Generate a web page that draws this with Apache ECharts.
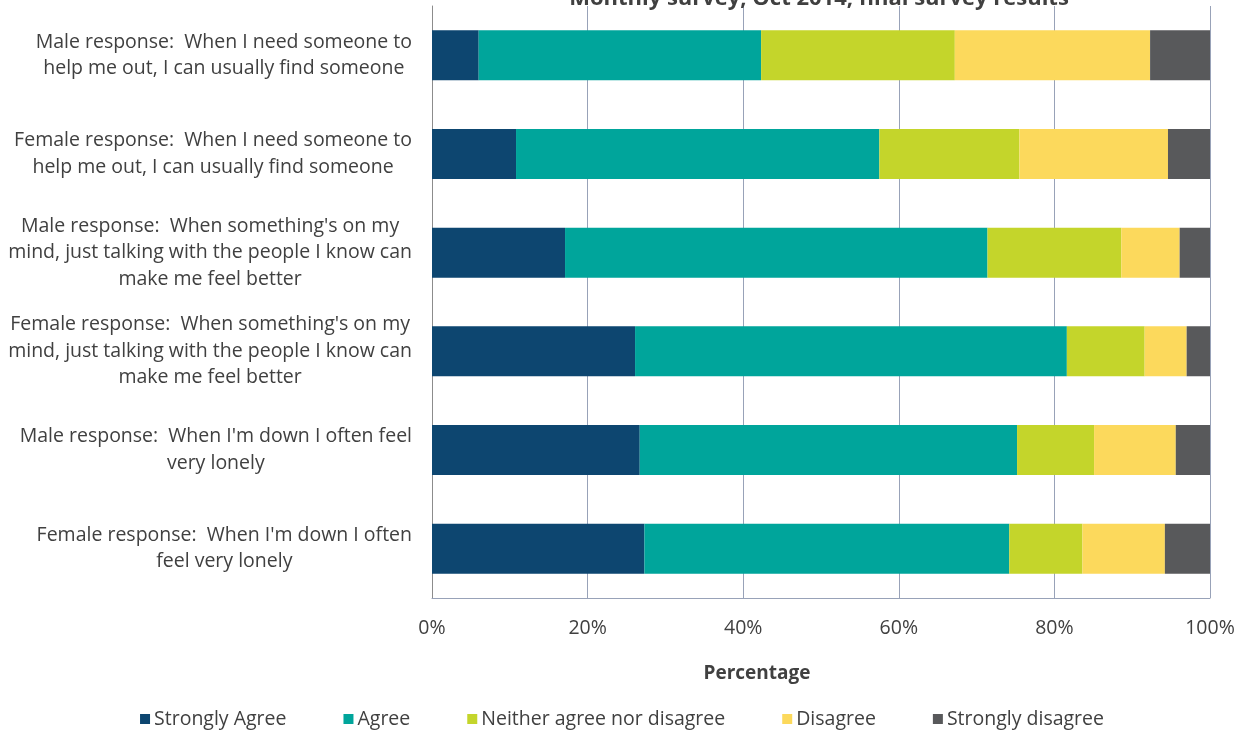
<!DOCTYPE html>
<html>
<head>
<meta charset="utf-8">
<script src="https://cdn.jsdelivr.net/npm/echarts@6/dist/echarts.min.js"></script>
<style>
  html, body { margin: 0; padding: 0; background: #ffffff; }
  #chart { width: 1244px; height: 736px; }
</style>
</head>
<body>
<div id="chart"></div>
<script>
// Survey statements, top to bottom
const categories = [
  "Male response:  When I need someone to\nhelp me out, I can usually find someone",
  "Female response:  When I need someone to\nhelp me out, I can usually find someone",
  "Male response:  When something's on my\nmind, just talking with the people I know can\nmake me feel better",
  "Female response:  When something's on my\nmind, just talking with the people I know can\nmake me feel better",
  "Male response:  When I'm down I often feel\nvery lonely",
  "Female response:  When I'm down I often\nfeel very lonely"
];

// Share of responses (%) per answer
const stronglyAgree    = [6.0, 10.8, 17.1, 26.1, 26.7, 27.3];
const agree            = [36.3, 46.7, 54.3, 55.5, 48.5, 46.9];
const neither          = [24.9, 18.0, 17.2, 10.0, 9.9, 9.4];
const disagree         = [25.1, 19.1, 7.5, 5.4, 10.5, 10.6];
const stronglyDisagree = [7.7, 5.4, 3.9, 3.0, 4.4, 5.8];

const seriesNames = ["Strongly Agree", "Agree", "Neither agree nor disagree", "Disagree", "Strongly disagree"];
const seriesData = [stronglyAgree, agree, neither, disagree, stronglyDisagree];
const seriesColors = ["#0d4670", "#00a59b", "#c4d52b", "#fcd95c", "#58595b"];

const xTicks = [0, 20, 40, 60, 80, 100];

const FONT = "'Open Sans', Lato, sans-serif";
const TEXT = "#404040";

const chart = echarts.init(document.getElementById("chart"), null, { renderer: "canvas" });

chart.setOption({
  animation: false,
  backgroundColor: "#ffffff",
  title: {
    text: "Monthly survey, Oct 2014, final survey results",
    left: 814,
    top: -17,
    textAlign: "center",
    textStyle: { fontFamily: FONT, fontWeight: "bold", fontSize: 22, color: TEXT }
  },
  legend: {
    bottom: 2,
    left: "center",
    itemWidth: 10,
    itemHeight: 10,
    itemGap: 57,
    icon: "rect",
    textStyle: { fontFamily: FONT, fontSize: 19.5, color: TEXT, padding: [0, 0, 0, -1] },
    data: seriesNames
  },
  grid: { left: 432, right: 34, top: 6, bottom: 138, containLabel: false },
  xAxis: {
    type: "value",
    min: xTicks[0],
    max: xTicks[xTicks.length - 1],
    interval: 20,
    name: "Percentage",
    nameLocation: "middle",
    nameGap: 66,
    nameTextStyle: { fontFamily: FONT, fontWeight: "bold", fontSize: 19, color: TEXT, padding: [0, 128, 0, 0] },
    axisLine: { show: true, lineStyle: { color: "#98a2b8", width: 1 } },
    axisTick: { show: false },
    axisLabel: { formatter: "{value}%", margin: 20, fontFamily: FONT, fontSize: 19.5, color: TEXT },
    splitLine: { show: true, lineStyle: { color: "#98a2b8", width: 1 } }
  },
  yAxis: {
    type: "category",
    inverse: true,
    data: categories,
    axisLine: { show: true, lineStyle: { color: "#8c8c8c", width: 1 } },
    axisTick: { show: false },
    axisLabel: {
      margin: 20,
      formatter: v => v.split("\n").map(l => "{c|" + l + "}").join("\n"),
      rich: {
        c: { align: "center", fontFamily: FONT, fontSize: 19.5, lineHeight: 26.5, color: TEXT }
      }
    }
  },
  series: seriesNames.map((name, i) => ({
    name,
    type: "bar",
    stack: "total",
    barWidth: 50,
    itemStyle: { color: seriesColors[i] },
    data: seriesData[i]
  }))
});
</script>
</body>
</html>
